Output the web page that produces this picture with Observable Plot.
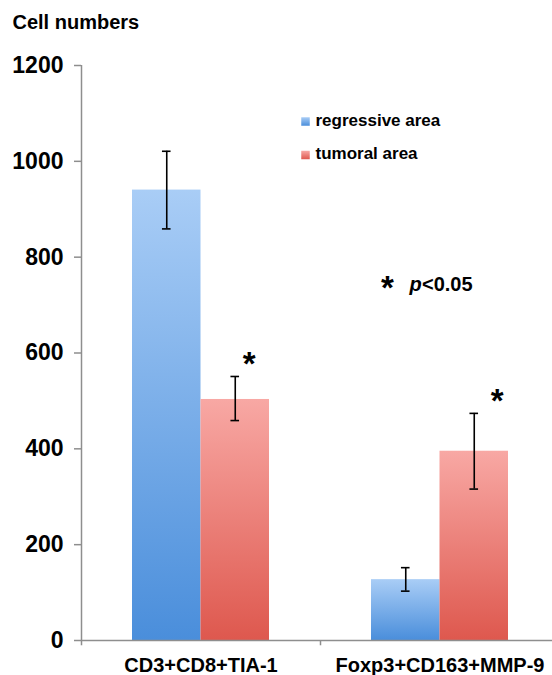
<!DOCTYPE html>
<html>
<head>
<meta charset="utf-8">
<script src="https://cdn.jsdelivr.net/npm/d3@7"></script>
<script src="https://cdn.jsdelivr.net/npm/@observablehq/plot@0.6"></script>
<style>
  html, body { margin: 0; padding: 0; background: #fff; }
</style>
</head>
<body>
<div id="chart"></div>
<script>
const categories = ["CD3+CD8+TIA-1", "Foxp3+CD163+MMP-9"];
const series = ["regressive area", "tumoral area"];
const regressive = [940, 127];
const regressiveLow = [859, 103];
const regressiveHigh = [1021, 152];
const tumoral = [503, 395];
const tumoralLow = [459, 316];
const tumoralHigh = [551, 474];
const significant = [true, true];
const yTicks = [0, 200, 400, 600, 800, 1000, 1200];
const yTitle = "Cell numbers";

const rows = [];
categories.forEach((c, i) => {
  rows.push({category: c, series: series[0], value: regressive[i], low: regressiveLow[i], high: regressiveHigh[i]});
  rows.push({category: c, series: series[1], value: tumoral[i], low: tumoralLow[i], high: tumoralHigh[i], sig: significant[i]});
});
const regRows = rows.filter(d => d.series === series[0]);
const tumRows = rows.filter(d => d.series === series[1]);

const font = "'Liberation Sans', Arial, Helvetica, sans-serif";
const axisGray = "#8e8e8e";
const gradId = {[series[0]]: "gradBlue", [series[1]]: "gradRed"};

function defs() {
  const d = d3.create("svg:defs");
  const mk = (id, top, bottom) => {
    const g = d.append("linearGradient").attr("id", id)
      .attr("x1", 0).attr("y1", 0).attr("x2", 0).attr("y2", 1);
    g.append("stop").attr("offset", "0%").attr("stop-color", top);
    g.append("stop").attr("offset", "100%").attr("stop-color", bottom);
  };
  mk("gradBlue", "#a9cdf6", "#4a8edb");
  mk("gradRed", "#f8a8a4", "#de584e");
  return d.node();
}

const band = 239;       // band width in px (style reference for insets)
const barW = 68.5;
const outer = 51;
const capW = 8.6;
const half = band / 2;

const plot = Plot.plot({
  width: 552,
  height: 675,
  marginLeft: 81,
  marginRight: 0,
  marginTop: 65,
  marginBottom: 35,
  style: {fontFamily: font, background: "#fff", color: "#000"},
  x: {domain: categories, range: [81, 559], padding: 0, axis: null},
  y: {domain: [0, 1200], range: [640, 65], axis: null},
  marks: [
    defs,
    // bars
    Plot.barY(regRows, {x: "category", y: "value", fill: d => `url(#${gradId[d.series]})`,
      insetLeft: outer, insetRight: band - outer - barW}),
    Plot.barY(tumRows, {x: "category", y: "value", fill: d => `url(#${gradId[d.series]})`,
      insetLeft: outer + barW, insetRight: outer}),
    // axes
    Plot.ruleY([0], {stroke: axisGray, strokeWidth: 1.5}),
    Plot.ruleX([categories[0]], {x: d => d, dx: -half, y1: 0, y2: 1200, stroke: axisGray, strokeWidth: 1.5}),
    Plot.ruleX(categories, {x: d => d, dx: -half, y1: 0, y2: -11, stroke: axisGray, strokeWidth: 1.5}),
    Plot.axisY(yTicks, {anchor: "left", tickSize: 7, tickPadding: 11, stroke: axisGray, strokeWidth: 1.5,
      fill: "#000", fontSize: 23, fontWeight: "bold", label: null, tickFormat: d => String(d)}),
    Plot.text(categories, {x: d => d, frameAnchor: "bottom", lineAnchor: "bottom", dy: 31,
      fontSize: 20, fontWeight: "bold", fill: "#000"}),
    // error bars
    Plot.ruleX(regRows, {x: "category", y1: "low", y2: "high", dx: -barW / 2, stroke: "#000", strokeWidth: 1.6}),
    Plot.ruleX(tumRows, {x: "category", y1: "low", y2: "high", dx: barW / 2, stroke: "#000", strokeWidth: 1.6}),
    Plot.tickY(regRows, {x: "category", y: "low", insetLeft: outer + barW / 2 - capW / 2, insetRight: band - outer - barW / 2 - capW / 2, stroke: "#000", strokeWidth: 1.6}),
    Plot.tickY(regRows, {x: "category", y: "high", insetLeft: outer + barW / 2 - capW / 2, insetRight: band - outer - barW / 2 - capW / 2, stroke: "#000", strokeWidth: 1.6}),
    Plot.tickY(tumRows, {x: "category", y: "low", insetLeft: outer + barW * 1.5 - capW / 2, insetRight: outer + barW / 2 - capW / 2, stroke: "#000", strokeWidth: 1.6}),
    Plot.tickY(tumRows, {x: "category", y: "high", insetLeft: outer + barW * 1.5 - capW / 2, insetRight: outer + barW / 2 - capW / 2, stroke: "#000", strokeWidth: 1.6}),
    // significance asterisks
    ...tumRows.map((r, i) => Plot.text([r].filter(d => d.sig), {x: "category", y: "high", text: () => "*",
      dx: barW / 2 + [14, 23][i], dy: -12, fontSize: 33, fontWeight: "bold", fill: "#000"})),
    // title
    Plot.text([yTitle], {frameAnchor: "top-left", dx: 12 - 81, dy: 28 - 65, lineAnchor: "bottom", textAnchor: "start",
      fontSize: 20, fontWeight: "bold", fill: "#000"}),
    // legend
    ...series.map((s, i) => Plot.dot([s], {frameAnchor: "top-left", dx: 305 - 81, dy: 121 - 65 + i * 33.5,
      symbol: "square", r: 4.8, fill: d => `url(#${gradId[d]})`, stroke: null})),
    ...series.map((s, i) => Plot.text([s], {frameAnchor: "top-left", dx: 315 - 81, dy: 125 - 65 + i * 33.5,
      lineAnchor: "bottom", textAnchor: "start", fontSize: 17, fontWeight: "bold", fill: "#000"})),
    // p-value note
    Plot.text(["*"], {frameAnchor: "top-left", dx: 385.5 - 81 - 5, dy: 284 - 65 - 9, fontSize: 33, fontWeight: "bold", fill: "#000"}),
    Plot.text(["p"], {frameAnchor: "top-left", dx: 409 - 81, dy: 290 - 65, lineAnchor: "bottom", textAnchor: "start",
      fontSize: 20, fontWeight: "bold", fontStyle: "italic", fill: "#000"}),
    Plot.text(["<0.05"], {frameAnchor: "top-left", dx: 421.5 - 81, dy: 290 - 65, lineAnchor: "bottom", textAnchor: "start",
      fontSize: 20, fontWeight: "bold", fill: "#000"})
  ]
});
document.getElementById("chart").appendChild(plot);
</script>
</body>
</html>
